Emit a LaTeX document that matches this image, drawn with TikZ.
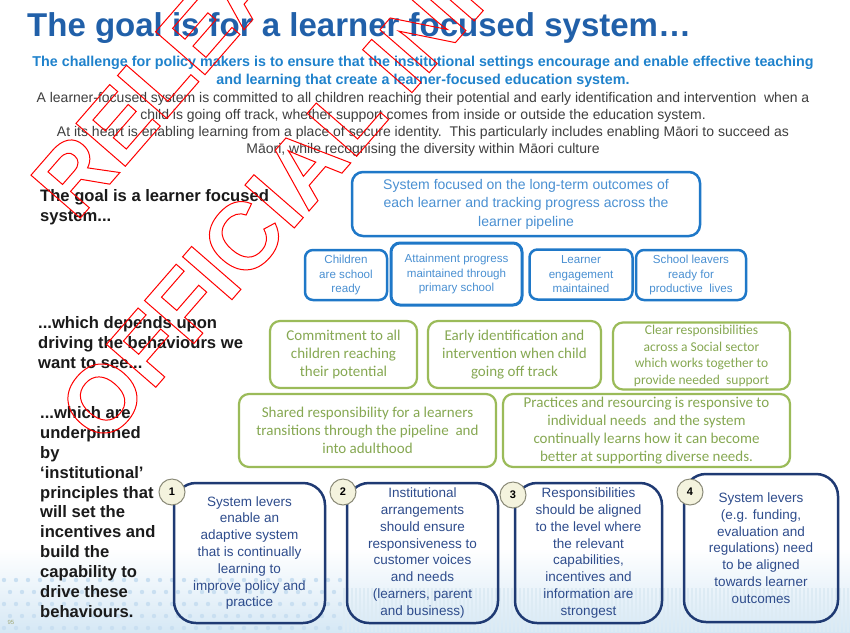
\documentclass[tikz,border=0pt]{standalone}
\usepackage{fontspec}
\setmainfont{Liberation Sans}
\newfontfamily\calibri{Carlito}
\usepackage{tikz}
\definecolor{goalBlue}{HTML}{2160A9}
\definecolor{challengeBlue}{HTML}{1F82CC}
\definecolor{introGrey}{HTML}{3F3F3F}
\definecolor{leadBlack}{HTML}{1A1A1A}
\definecolor{boxBlue}{HTML}{1F78C8}
\definecolor{boxText}{HTML}{4A90D2}
\definecolor{levelGreen}{HTML}{9BBB59}
\definecolor{levelText}{HTML}{86A852}
\definecolor{leverNavy}{HTML}{1F3A73}
\definecolor{leverText}{HTML}{2E4C8C}
\definecolor{numGrey}{HTML}{8A8A78}
\definecolor{numCream}{HTML}{F4F3DE}
\definecolor{footBlue}{HTML}{D6E8F5}
\definecolor{dotBlue}{HTML}{C9DFF1}
\definecolor{stripeBlue}{HTML}{DDEBF4}
\definecolor{pageOlive}{HTML}{A0A878}
\definecolor{stampRed}{HTML}{FF0000}
\newcommand\outlined[1]{\special{pdf:literal direct 1 Tr 1 w 1 0 0 RG}#1\special{pdf:literal direct 0 Tr}}

\begin{document}
\begin{tikzpicture}[x=1pt,y=-1pt,inner sep=0pt,
  goalbox/.style={draw=boxBlue,line width=2.5pt,rounded corners=11pt,text=boxText,align=center},
  levelbox/.style={draw=levelGreen,line width=2.2pt,rounded corners=10pt,text=levelText,align=center,
    font=\calibri\fontsize{15}{18}\selectfont},
  leverbox/.style={draw=leverNavy,line width=2.5pt,rounded corners=22pt,text=leverText,align=center,
    font=\fontsize{13.5}{16.8}\selectfont},
  leverno/.style={circle,draw=numGrey,fill=numCream,line width=1pt,minimum size=26pt,
    font=\bfseries\fontsize{11}{11}\selectfont},
  lead/.style={anchor=west,align=left,text=leadBlack,font=\bfseries\fontsize{16.6}{20}\selectfont},
  stamp/.style={anchor=base west,rotate=49,text=stampRed,font=\bfseries\fontsize{95}{95}\selectfont}]
\fill[white] (0,0) rectangle (850,632);
\useasboundingbox (0,0) rectangle (850,632);

\shade[top color=white,bottom color=footBlue] (0,548) rectangle (850,632);
\foreach \x in {344,348,...,850}
  \draw[stripeBlue,line width=1.4pt] (\x,588) -- (\x,632);
\foreach \x in {4,16,...,340}
  \foreach \y in {580,604,628}
    \fill[dotBlue] (\x,\y) circle (2.2);
\foreach \x in {10,22,...,340}
  \foreach \y in {592,616}
    \fill[dotBlue] (\x,\y) circle (2.2);
\node[text=pageOlive,font=\fontsize{6}{6}\selectfont] (slideno) at (11,622) {95};

\node[anchor=base west,text=goalBlue,font=\bfseries\fontsize{33}{40}\selectfont] (title) at (27,36)
  {The goal is for a learner focused system…};
\node[align=center,text=challengeBlue,font=\bfseries\fontsize{14.3}{18}\selectfont] (challenge) at (423,72)
  {The challenge for policy makers is to ensure that the institutional settings encourage and enable effective teaching\\
   and learning that create a learner-focused education system.};
\node[align=center,text=introGrey,font=\fontsize{14}{17}\selectfont] (intro) at (423,124)
  {A learner-focused system is committed to all children reaching their potential and early identification and intervention\ \ when a\\
   child is going off track, whether support comes from inside or outside the education system.\\
   At its heart is enabling learning from a place of secure identity.\ \ This particularly includes enabling Māori to succeed as\\
   Māori, while recognising the diversity within Māori culture};

\node[lead] (goal) at (40,207) {The goal is a learner focused\\system...};
\node[lead] (depends) at (38,343) {...which depends upon\\driving the behaviours we\\want to see...};
\node[lead,font=\bfseries\fontsize{16.6}{19.9}\selectfont] (underpin) at (40,512)
  {...which are\\underpinned\\by\\‘institutional’\\principles that\\will set the\\incentives and\\build the\\capability to\\drive these\\behaviours.};

\node[goalbox,minimum width=348pt,minimum height=64pt,font=\fontsize{14}{18.5}\selectfont] (longterm) at (526,204)
  {System focused on the long-term outcomes of\\each learner and tracking progress across the\\learner pipeline};
\node[goalbox,minimum width=82pt,minimum height=50pt,rounded corners=8pt,font=\fontsize{11.6}{14.5}\selectfont] (ready) at (346,275)
  {Children\\are school\\ready};
\node[goalbox,minimum width=131pt,minimum height=62pt,rounded corners=9pt,line width=3pt,font=\fontsize{11.6}{14.5}\selectfont] (attain) at (456.5,274)
  {Attainment progress\\maintained through\\primary school};
\node[goalbox,minimum width=103pt,minimum height=50pt,rounded corners=8pt,font=\fontsize{11.6}{14.5}\selectfont] (engage) at (581,274.5)
  {Learner\\engagement\\maintained};
\node[goalbox,minimum width=110pt,minimum height=50pt,rounded corners=8pt,font=\fontsize{11.6}{14.5}\selectfont] (leavers) at (691,275)
  {School leavers\\ready for\\productive\ \ lives};

\node[levelbox,minimum width=147pt,minimum height=67pt] (commit) at (343.5,354.5)
  {Commitment to all\\children reaching\\their potential};
\node[levelbox,minimum width=173pt,minimum height=67pt] (early) at (514.5,354.5)
  {Early identification and\\intervention when child\\going off track};
\node[levelbox,minimum width=177pt,minimum height=67pt,font=\calibri\fontsize{13.5}{16.5}\selectfont] (clear) at (701.5,356)
  {Clear responsibilities\\across a Social sector\\which works together to\\provide needed\ \ support};
\node[levelbox,minimum width=257pt,minimum height=73pt] (shared) at (367.5,430.5)
  {Shared responsibility for a learners\\transitions through the pipeline\ \ and\\into adulthood};
\node[levelbox,minimum width=287pt,minimum height=73pt] (practice) at (646.5,430.5)
  {Practices and resourcing is responsive to\\individual needs\ \ and the system\\continually learns how it can become\\better at supporting diverse needs.};

\node[leverbox,minimum width=151pt,minimum height=140pt] (lever1) at (249.5,553)
  {System levers\\enable an\\adaptive system\\that is continually\\learning to\\improve policy and\\practice};
\node[leverbox,minimum width=151pt,minimum height=140pt] (lever2) at (422.5,553)
  {Institutional\\arrangements\\should ensure\\responsiveness to\\customer voices\\and needs\\(learners, parent\\and business)};
\node[leverbox,minimum width=147pt,minimum height=140pt] (lever3) at (588.5,553)
  {Responsibilities\\should be aligned\\to the level where\\the relevant\\capabilities,\\incentives and\\information are\\strongest};
\node[leverbox,minimum width=154pt,minimum height=148pt] (lever4) at (761,548)
  {System levers\\(e.g. funding,\\evaluation and\\regulations) need\\to be aligned\\towards learner\\outcomes};
\node[leverno] (no1) at (172,492) {1};
\node[leverno] (no2) at (343,492) {2};
\node[leverno] (no3) at (513,495) {3};
\node[leverno] (no4) at (690,492) {4};

\begin{scope}
\clip (0,0) rectangle (850,632);
\node[stamp] (stampTop) at (76,223) {\outlined{RELEASED UNDER THE}};
\node[stamp] (stampBottom) at (103,448) {\outlined{OFFICIAL INFORMATION ACT}};
\end{scope}
\end{tikzpicture}
\end{document}
